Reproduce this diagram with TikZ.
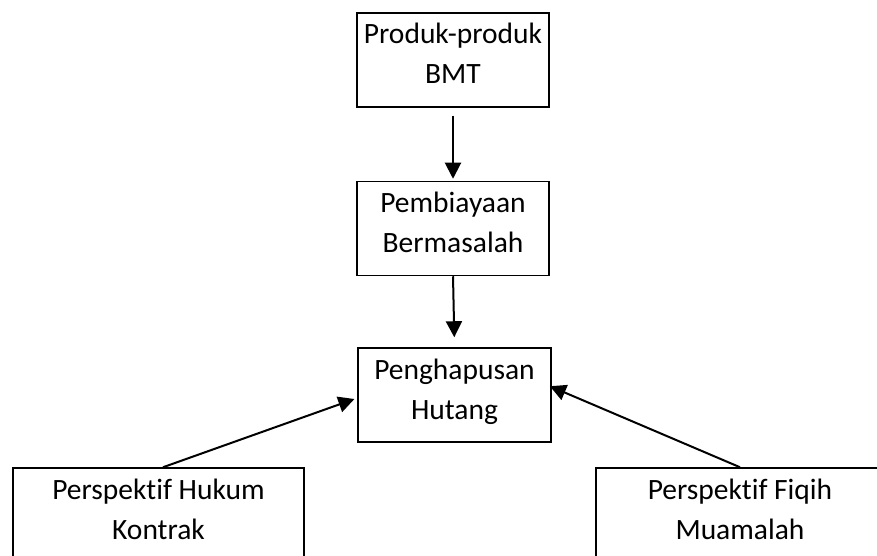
\documentclass[tikz,border=0pt]{standalone}
\usepackage{fontspec}
\setmainfont{Carlito}[Ligatures=NoCommon]
\usetikzlibrary{arrows.meta}
% struts that keep the two text lines at the same place in every box
\newcommand{\LineTop}{\rule{0pt}{24pt}}
\newcommand{\LineBot}{\rule[-16pt]{0pt}{16pt}}

\begin{document}
\begin{tikzpicture}[x=1pt, y=-1pt,
    box/.style={draw, line width=1.5pt, minimum width=192pt, minimum height=94pt,
        inner sep=0pt, align=center, font=\fontsize{29.5}{40}\selectfont},
    flow/.style={line width=2pt, -{Triangle[length=16pt,width=16pt]}}]
    \clip (0,0) rectangle (877,556);
    % Explicit Coordinates: box centres, y measured downward
    \coordinate (C1) at (453, 60);      % Produk
    \coordinate (C2) at (453, 228.5);   % Pembiayaan
    \coordinate (C3) at (454.5, 395);   % Penghapusan
    \coordinate (C4) at (158.5, 515);   % Hukum Kontrak
    \coordinate (C5) at (740, 515);     % Fiqih Muamalah

    \node[box] (produk) at (C1) {\LineTop Produk-produk\\BMT\LineBot};
    \node[box] (pembiayaan) at (C2) {\LineTop Pembiayaan\\Bermasalah\LineBot};
    \node[box, minimum width=193pt] (hapus) at (C3) {\LineTop Penghapusan\\Hutang\LineBot};
    \node[box, minimum width=291pt] (hukum) at (C4) {\LineTop Perspektif Hukum\\Kontrak\LineBot};
    \node[box, minimum width=288pt] (fiqih) at (C5) {\LineTop Perspektif Fiqih\\Muamalah\LineBot};

    \draw[flow, shorten <=8pt, shorten >=2pt] (produk.south) -- (pembiayaan.north);
    \draw[flow, shorten >=10pt] (pembiayaan.south) -- (hapus.north);
    \draw[flow, shorten >=3pt] ([xshift=4.5pt]hukum.north) -- ([yshift=-3pt]hapus.west);
    \draw[flow, shorten >=-2pt] (fiqih.north) -- ([yshift=8pt]hapus.east);
\end{tikzpicture}
\end{document}
